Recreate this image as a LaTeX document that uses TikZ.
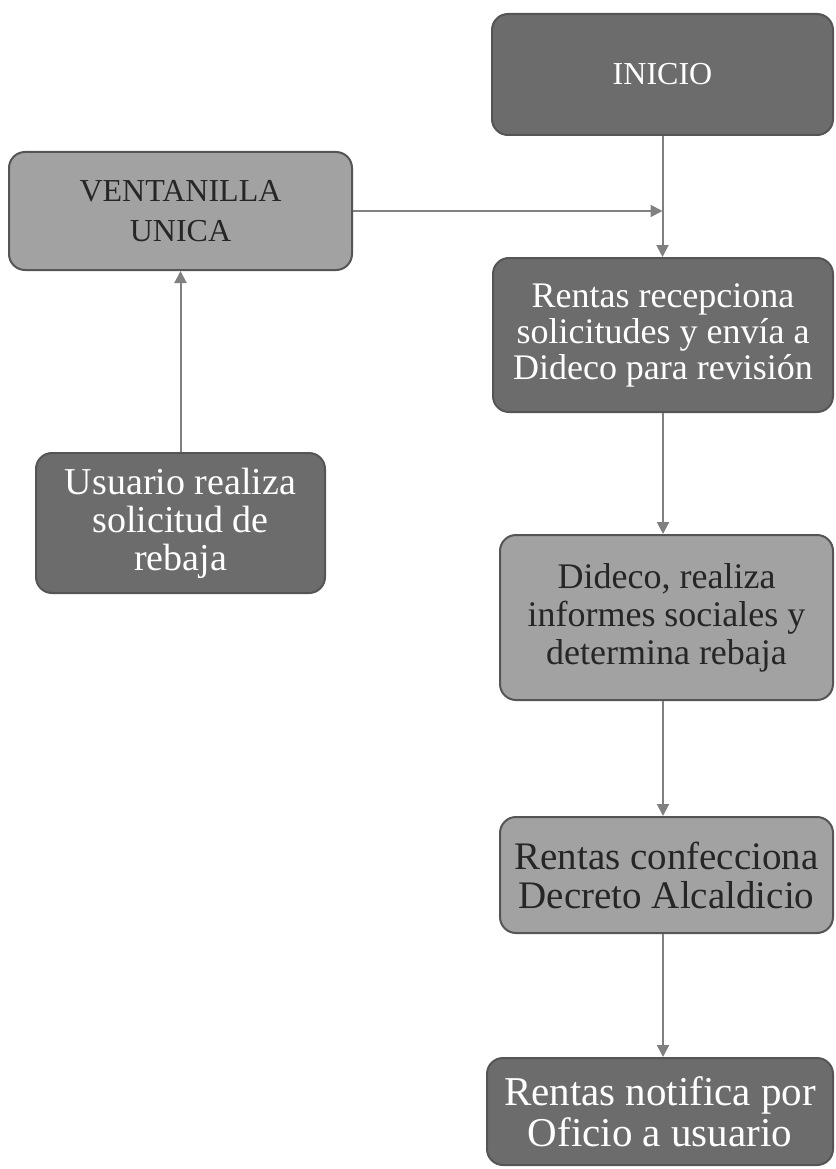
\documentclass[tikz,border=0pt]{standalone}
\usepackage{fontspec}
\setmainfont{Liberation Serif}
\usetikzlibrary{arrows.meta}
\definecolor{oscuro}{HTML}{6C6C6C}
\definecolor{claro}{HTML}{A2A2A2}
\definecolor{borde}{HTML}{555555}
\definecolor{flechagris}{HTML}{808080}
\tikzset{
  caja/.style={draw=borde, line width=2pt, rounded corners=16pt, align=center, inner sep=0pt},
  cajaoscura/.style={caja, fill=oscuro, text=white},
  cajaclara/.style={caja, fill=claro, text=black!85},
  flecha/.style={draw=flechagris, line width=2pt, -{Triangle[width=12pt,length=12pt]}}
}

\begin{document}
\begin{tikzpicture}[x=1pt, y=-1pt]
  \useasboundingbox (0,0) rectangle (835,1169);

  % columna derecha
  \node[cajaoscura, minimum width=341pt, minimum height=121pt, font=\fontsize{32}{34}\selectfont]
    (inicio) at (662.5,74.5) {INICIO};
  \node[cajaoscura, minimum width=340pt, minimum height=154pt, font=\fontsize{36}{36}\selectfont]
    (rentasrec) at (663,335) {Rentas recepciona\\solicitudes y envía a\\Dideco para revisión};
  \node[cajaclara, minimum width=333pt, minimum height=165pt, font=\fontsize{36}{38}\selectfont]
    (dideco) at (666.5,617.5) {Dideco, realiza\\informes sociales y\\determina rebaja};
  \node[cajaclara, minimum width=333pt, minimum height=116pt, font=\fontsize{39}{39}\selectfont]
    (decreto) at (666.5,875) {Rentas confecciona\\Decreto Alcaldicio};
  \node[cajaoscura, minimum width=346pt, minimum height=107pt, font=\fontsize{41}{41}\selectfont]
    (notifica) at (660,1111.5) {Rentas notifica por\\Oficio a usuario};

  % columna izquierda
  \node[cajaclara, minimum width=343pt, minimum height=118pt, font=\fontsize{32}{40}\selectfont]
    (ventanilla) at (180.5,211) {VENTANILLA\\UNICA};
  \node[cajaoscura, minimum width=289pt, minimum height=140pt, font=\fontsize{38}{38}\selectfont]
    (usuario) at (180.5,523) {Usuario realiza\\solicitud de\\rebaja};

  \coordinate (union) at (inicio.south |- ventanilla.east);

  % flechas
  \draw[flecha] (inicio.south) -- (inicio.south |- rentasrec.north);
  \draw[flecha] (ventanilla.east) -- (union);
  \draw[flecha] (usuario.north) -- (usuario.north |- ventanilla.south);
  \draw[flecha] (rentasrec.south) -- (rentasrec.south |- dideco.north);
  \draw[flecha] (dideco.south -| rentasrec.south) -- (rentasrec.south |- decreto.north);
  \draw[flecha] (decreto.south -| rentasrec.south) -- (rentasrec.south |- notifica.north);
\end{tikzpicture}
\end{document}
